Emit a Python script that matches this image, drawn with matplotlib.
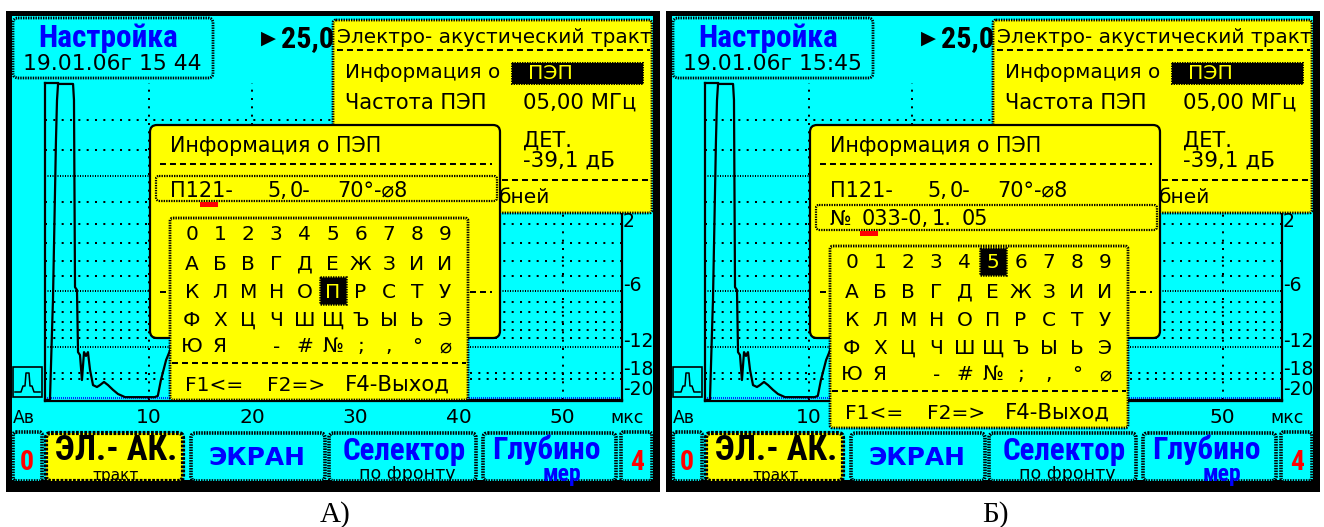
import matplotlib
matplotlib.use('Agg')
import matplotlib.pyplot as plt
from matplotlib.patches import Rectangle, FancyBboxPatch
from matplotlib.transforms import blended_transform_factory

plt.rcParams['lines.scale_dashes'] = False

W, H = 1324, 527
CYAN, YELLOW, BLUE, RED = '#00FFFF', '#FFFF00', '#0000FF', '#FF0000'
FONT = ['DejaVu Sans']
FONT_B = ['Roboto Condensed', 'DejaVu Sans']
FONT_W = ['DejaVu Sans']
SERIF = ['Liberation Serif', 'DejaVu Serif']

# ---------------- data ----------------
panel_captions = ['А)', 'Б)']
header_title = 'Настройка'
header_dates = ['19.01.06г 15 44', '19.01.06г 15:45']
range_marker = '▶'
range_text = '25,0'
time_ticks = [10, 20, 30, 40, 50]
time_tick_labels = ['10', '20', '30', '40', '50']
time_axis_left = 'Ав'
time_axis_unit = 'мкс'
db_tick_amp = [54.6, 34.4, 16.7, 7.9, 1.6]
db_tick_labels = ['2', '-6', '-12', '-18', '-20']
grid_rows_amp = [88.3, 78.9, 62.5, 55.5, 49.5, 43.8, 39.1, 30.9, 27.8, 24.6,
                 22.1, 19.6, 8.5, 6.6]
grid_rows_dense_amp = [70.7, 34.4, 16.7]
baseline_amp = 0.63
wave_t = [0.0, 0.48, 0.68, 0.77, 1.06, 1.16, 1.26, 2.71, 2.80, 2.90, 3.09, 3.19,
          3.38, 3.57, 3.77, 3.96, 4.15, 4.35, 4.64, 5.02, 5.31, 5.70, 6.09, 6.57,
          7.05, 7.73, 10.6, 10.9, 11.2, 11.4, 11.7, 12.1, 12.8, 13.4, 14.0, 14.7,
          15.4, 16.2, 17.0, 55.75]
wave_a = [0.0, 0.0, 22.1, 31.5, 82.0, 94.6, 99.7, 99.7, 94.6, 35.6, 34.7, 15.1,
          14.2, 6.3, 15.1, 13.9, 15.1, 9.5, 4.7, 4.1, 4.7, 5.7, 4.7, 3.2,
          1.9, 0.9, 0.9, 1.3, 6.3, 8.8, 12.6, 15.8, 32.0, 44.0, 36.0, 18.0,
          7.0, 2.0, 0.0, 0.0]

eat_title = 'Электро- акустический тракт'
eat_rows = [('Информация о', 'ПЭП'), ('Частота ПЭП', '05,00 МГц')]
eat_det = ['ДЕТ.', '-39,1 дБ']
eat_partial = 'бней'
info_title = 'Информация о ПЭП'
info_line1 = ['П121-', '5,', '0-', '70°-⌀8']
info_line2 = ['№', '033-0,', '1.', '05']
edit_line = [0, 1]              # boxed line per panel
cursor_char = [(2, 5), (0, 5)]  # highlighted key (row, col) per panel
kb_rows = [list('0123456789'), list('АБВГДЕЖЗИИ'), list('КЛМНОПРСТУ'),
           list('ФХЦЧШЩЪЫЬЭ'), ['Ю', 'Я', '', '-', '#', '№', ';', ',', '°', '⌀']]
kb_footer = ['F1<=', 'F2=>', 'F4-Выход']
buttons_side = ['0', '4']
btn_main = [('ЭЛ.- АК.', 'тракт'), ('ЭКРАН', ''), ('Селектор', 'по фронту'), ('Глубино', 'мер')]

T_MAX = 577 / 10.35
A_MIN = -2 / 3.17
BODY = 14.5

# ---------------- figure ----------------
fig = plt.figure(figsize=(W / 100, H / 100), dpi=100)
fig.patch.set_facecolor('white')
ax_bg = fig.add_axes([0, 0, 1, 1], zorder=0)
ax_top = fig.add_axes([0, 0, 1, 1], zorder=2)
for a in (ax_bg, ax_top):
    a.set_xlim(0, W)
    a.set_ylim(H, 0)
    a.axis('off')
renderer = fig.canvas.get_renderer()

DOT = (0, (1.0, 0.8))
DASH = (0, (4.3, 2.9))
GDOT = (0, (1.44, 4.56))
GDENSE = (0, (0.72, 1.08))


def txt(ax, x, y, s, width=None, size=BODY, ha='left', va='baseline', color='black',
        bold=False, family=None, z=6, transform=None):
    kw = {}
    if transform is not None:
        kw['transform'] = transform
    t = ax.text(x, y, s, ha=ha, va=va, color=color,
                fontweight='bold' if bold else 'normal',
                family=family or (FONT_B if bold else FONT), fontsize=size, zorder=z, **kw)
    if width:
        bb = t.get_window_extent(renderer=renderer)
        t.set_fontsize(size * width / bb.width)
    return t


def box(ax, x0, y0, x1, y1, fc, ec='black', lw=1.5, ls='-', r=4, z=3):
    p = FancyBboxPatch((x0, y0), x1 - x0, y1 - y0,
                       boxstyle=f'round,pad=0,rounding_size={r}',
                       fc=fc, ec=ec, lw=lw, ls=ls, zorder=z)
    ax.add_patch(p)
    return p


def hline(ax, x0, x1, y, ls=DASH, lw=1.44, color='black', z=5):
    ax.plot([x0, x1], [y, y], color=color, lw=lw, ls=ls, zorder=z,
            solid_capstyle='butt', dash_capstyle='butt')


def panel(ox, i):
    # frame
    ax_bg.add_patch(Rectangle((6 + ox, 11), 654, 481, fc='black', ec='none', zorder=0))
    ax_bg.add_patch(Rectangle((12 + ox, 16), 641, 464, fc=CYAN, ec='none', zorder=1))

    # header
    box(ax_bg, 13 + ox, 18, 213 + ox, 78, CYAN, lw=2.0, ls=DOT, r=5)
    txt(ax_bg, 108 + ox, 47, header_title, size=22.5, ha='center', color=BLUE, bold=True)
    txt(ax_bg, 112 + ox, 70, header_dates[i], width=179, ha='center')
    txt(ax_bg, 261 + ox, 44, range_marker, size=14, family=FONT)
    txt(ax_bg, 281 + ox, 47, range_text, width=53, bold=True)

    # chart
    axc = fig.add_axes([(45 + ox) / W, 1 - 402 / H, 577 / W, (402 - 83) / H], zorder=1)
    axc.set_xlim(0, T_MAX)
    axc.set_ylim(A_MIN, 100)
    axc.axis('off')
    for a in grid_rows_amp:
        axc.plot([0, T_MAX], [a, a], color='black', lw=1.44, ls=GDOT, zorder=1)
    for a in grid_rows_dense_amp:
        axc.plot([0, T_MAX], [a, a], color='black', lw=1.44, ls=GDENSE, zorder=1)
    for t in time_ticks:
        axc.plot([t, t], [0, 100], color='black', lw=1.44, ls=GDOT, zorder=1)
    axc.plot([0, T_MAX], [baseline_amp] * 2, color=BLUE, lw=1.2, ls=(0, (0.72, 0.72)), zorder=2)
    axc.plot(wave_t, wave_a, color='black', lw=1.6, zorder=3, clip_on=False)
    axc.plot([0, T_MAX], [-0.16, -0.16], color='black', lw=1.6, zorder=4, clip_on=False)
    axc.plot([0, 0], [-0.3, 100], color='black', lw=1.6, zorder=4, clip_on=False)
    axc.plot([0, 1.26], [99.9, 99.9], color='black', lw=1.6, zorder=4, clip_on=False)
    axc.plot([T_MAX, T_MAX], [-0.3, 100], color='black', lw=1.6, zorder=4, clip_on=False)

    # axis labels (labels hidden behind the keyboard of panel Б are not drawn)
    tr_x = blended_transform_factory(axc.transData, ax_bg.transData)
    for t, s in zip(time_ticks, time_tick_labels):
        if i == 1 and 16 < t < 42:
            continue
        txt(ax_bg, t, 423, s, size=14.5, ha='center', transform=tr_x)
    txt(ax_bg, 13 + ox, 423, time_axis_left, width=22)
    txt(ax_bg, 627 + ox, 423, time_axis_unit, width=33, ha='center')
    tr_y = blended_transform_factory(ax_bg.transData, axc.transData)
    for a, s in zip(db_tick_amp, db_tick_labels):
        txt(ax_bg, 623 + ox, a, s, size=13.5, transform=tr_y)

    # pulse icon
    ax_bg.add_patch(Rectangle((13 + ox, 367), 29, 30, fc='none', ec='black', lw=1.2, zorder=5))
    ax_bg.plot([15 + ox, 21 + ox, 23 + ox, 25 + ox, 26 + ox, 29 + ox, 30 + ox, 32 + ox, 34 + ox, 40 + ox],
               [392, 392, 386, 386, 373, 373, 386, 386, 392, 392], color='black', lw=1.1, zorder=5)

    # buttons
    BL = 2.6
    BS = (0, (1.1, 0.8))
    box(ax_bg, 13 + ox, 432, 42 + ox, 481, CYAN, lw=BL, ls=BS, r=3)
    box(ax_bg, 621 + ox, 432, 652 + ox, 481, CYAN, lw=BL, ls=BS, r=3)
    txt(ax_bg, 27 + ox, 470, buttons_side[0], size=20, ha='center', color=RED, bold=True)
    txt(ax_bg, 637 + ox, 470, buttons_side[1], size=20, ha='center', color=RED, bold=True)
    box(ax_bg, 46 + ox, 433, 183 + ox, 481, YELLOW, lw=3.0, ls=(0, (2, 1)), r=5)
    box(ax_bg, 191 + ox, 433, 325 + ox, 481, CYAN, lw=BL, ls=BS, r=5)
    box(ax_bg, 329 + ox, 433, 476 + ox, 481, CYAN, lw=BL, ls=BS, r=5)
    box(ax_bg, 483 + ox, 433, 616 + ox, 481, CYAN, lw=BL, ls=BS, r=5)
    txt(ax_bg, 116 + ox, 460, btn_main[0][0], width=122, ha='center', bold=True)
    txt(ax_bg, 116 + ox, 480, btn_main[0][1], size=11, ha='center')
    txt(ax_bg, 257 + ox, 465, btn_main[1][0], width=97, ha='center', color=BLUE, bold=True,
        family=FONT_W)
    txt(ax_bg, 404 + ox, 460, btn_main[2][0], width=124, ha='center', color=BLUE, bold=True)
    txt(ax_bg, 407 + ox, 479, btn_main[2][1], size=12.5, ha='center')
    txt(ax_bg, 546 + ox, 459, btn_main[3][0], width=108, ha='center', color=BLUE, bold=True)
    txt(ax_bg, 562 + ox, 481, btn_main[3][1], size=17, ha='center', color=BLUE, bold=True)

    # caption
    txt(ax_bg, 335 + ox, 522, panel_captions[i], size=21, ha='center', family=SERIF)

    # ---- overlay windows ----
    # electro-acoustic window
    box(ax_top, 333 + ox, 20, 652 + ox, 213, YELLOW, lw=2.0, ls=DOT, r=3, z=10)
    txt(ax_top, 337 + ox, 43, eat_title, width=313, z=11)
    hline(ax_top, 337 + ox, 650 + ox, 50, z=11)
    txt(ax_top, 345 + ox, 78, eat_rows[0][0], width=155, z=11)
    ax_top.add_patch(Rectangle((512 + ox, 63), 131, 21, fc='black', ec='black', lw=1.4, ls=DOT, zorder=11))
    txt(ax_top, 528 + ox, 79, eat_rows[0][1], width=45, color=YELLOW, z=12)
    txt(ax_top, 345 + ox, 109, eat_rows[1][0], width=142, z=11)
    txt(ax_top, 523 + ox, 109, eat_rows[1][1], width=114, z=11)
    txt(ax_top, 523 + ox, 147, eat_det[0], size=15, z=11)
    txt(ax_top, 523 + ox, 167, eat_det[1], size=15.5, z=11)
    hline(ax_top, 502 + ox, 650 + ox, 180, z=11)
    txt(ax_top, 499 + ox, 203, eat_partial, z=11)

    # info window
    box(ax_top, 150 + ox, 125, 500 + ox, 338, YELLOW, lw=1.6, r=7, z=20)
    txt(ax_top, 170 + ox, 152, info_title, width=213, z=21)
    hline(ax_top, 160 + ox, 492 + ox, 164, z=21)
    for s, x in zip(info_line1, [170, 267, 290, 337]):
        txt(ax_top, x + ox, 197, s, size=15, z=21)
    if i == 1:
        for s, x in zip(info_line2, [170, 202, 272, 302]):
            txt(ax_top, x + ox, 225, s, size=15, z=21)
    e = edit_line[i]
    yb = [176, 205][e]
    box(ax_top, 156 + ox, yb, 497 + ox, yb + 25, 'none', lw=1.6, ls=DOT, r=3, z=21)
    ax_top.add_patch(Rectangle((200 + ox, yb + 26), 18, 5, fc=RED, ec='none', zorder=22))
    hline(ax_top, 160 + ox, 492 + ox, 292, z=21)

    # keyboard
    ky = 218 + 28 * i
    box(ax_top, 170 + ox, ky, 468 + ox, ky + 182, YELLOW, lw=2.0, ls=DOT, r=3, z=30)
    rb = [22.5, 51.5, 79.5, 107.5, 134.5]
    cr, cc = cursor_char[i]
    for r, row in enumerate(kb_rows):
        for c, ch in enumerate(row):
            cx = 192 + 28.1 * c + ox
            col = 'black'
            if (r, c) == (cr, cc):
                ax_top.add_patch(Rectangle((cx - 13, ky + rb[r] - 21), 26, 27, fc='black',
                                           ec='black', lw=1.8, ls=DOT, zorder=31))
                col = YELLOW
            if ch:
                txt(ax_top, cx, ky + rb[r], ch, size=14.5, ha='center', color=col, z=32)
    hline(ax_top, 172 + ox, 466 + ox, ky + 145, z=31)
    txt(ax_top, 185 + ox, ky + 173, kb_footer[0], size=14.5, z=31)
    txt(ax_top, 267 + ox, ky + 173, kb_footer[1], size=14.5, z=31)
    txt(ax_top, 345 + ox, ky + 173, kb_footer[2], width=105, z=31)


panel(0, 0)
panel(660, 1)

fig.savefig('out.png', dpi=100, facecolor='white')
